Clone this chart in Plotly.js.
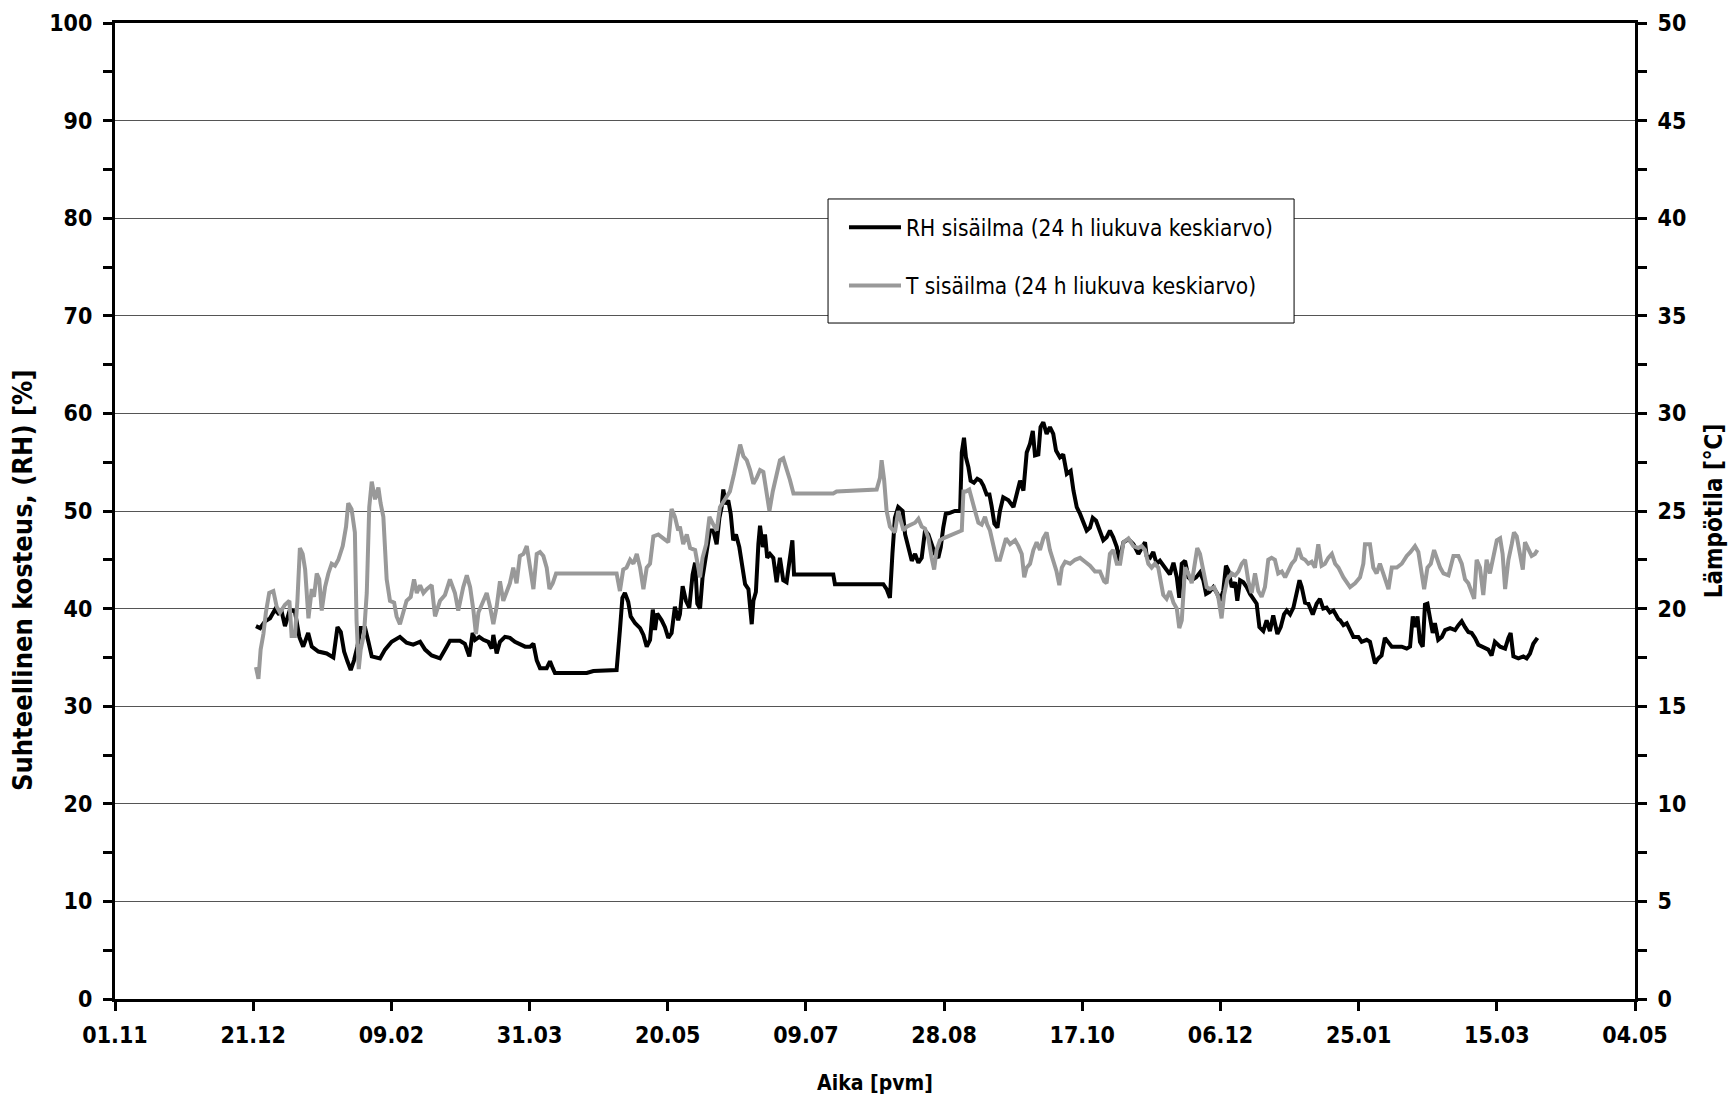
<!DOCTYPE html>
<html>
<head>
<meta charset="utf-8">
<script src="https://cdn.plot.ly/plotly-3.0.1.min.js"></script>
<style>
  html, body { margin: 0; padding: 0; background: #fff; }
  #chart { width: 1731px; height: 1103px; }
</style>
</head>
<body>
<div id="chart"></div>
<script>
// Measurement period starts 01.11.2006; positions below are days from that date.
const START_DATE = '2006-11-01';
const END_DATE = '2008-05-04';

// X-axis tick dates (every 50 days) and their labels
const tickDates = ['2006-11-01', '2006-12-21', '2007-02-09', '2007-03-31', '2007-05-20', '2007-07-09',
                   '2007-08-28', '2007-10-17', '2007-12-06', '2008-01-25', '2008-03-15', '2008-05-04'];
const tickLabels = ['01.11', '21.12', '09.02', '31.03', '20.05', '09.07',
                    '28.08', '17.10', '06.12', '25.01', '15.03', '04.05'];

// Indoor relative humidity, 24 h moving average [%]
const rhDay = [51.0, 52.5, 54.3, 56.1, 57.9, 59.1, 60.3, 61.5, 63.3, 65.1, 66.7, 68.1, 69.9, 71.2, 73.6, 76.6,
  79.0, 80.5, 81.7, 82.9, 84.1, 85.3, 86.5, 87.7, 88.9, 90.5, 91.7, 92.9, 95.9, 97.7, 100.1, 103.1, 105.5,
  107.9, 110.4, 112.2, 114.6, 117.6, 120.0, 121.2, 124.8, 126.6, 128.2, 129.4, 130.3, 131.8, 133.3, 135.1,
  136.3, 136.9, 138.1, 139.3, 141.1, 142.9, 144.7, 146.5, 148.4, 150.2, 151.4, 152.6, 153.8, 156.2, 157.4,
  158.4, 159.2, 170.7, 173.1, 181.5, 182.1, 182.7, 183.6, 184.5, 185.7, 186.6, 188.2, 190.0, 191.2, 192.4,
  193.6, 194.6, 195.4, 196.2, 197.8, 199.0, 200.2, 201.4, 202.6, 203.8, 204.4, 205.4, 206.6, 207.8, 209.0,
  209.9, 210.7, 211.7, 212.6, 214.1, 215.3, 216.5, 217.7, 218.7, 219.5, 220.1, 221.0, 221.9, 222.8, 223.7,
  224.7, 225.9, 226.8, 228.0, 229.2, 230.4, 231.0, 231.9, 232.8, 233.4, 234.4, 235.2, 236.0, 237.0, 238.2,
  239.4, 240.6, 241.8, 243.0, 244.2, 245.1, 245.7, 259.9, 260.5, 278.0, 279.2, 280.4, 281.3, 282.2, 283.4,
  285.0, 285.9, 287.1, 288.3, 289.5, 290.7, 291.9, 293.1, 294.3, 295.5, 296.7, 297.9, 298.8, 299.7, 300.6,
  302.1, 303.9, 305.8, 306.4, 307.2, 307.9, 308.8, 309.6, 310.8, 312.0, 313.2, 314.2, 315.4, 316.4, 317.2,
  318.2, 319.3, 320.2, 321.4, 323.3, 325.1, 326.3, 327.5, 328.7, 329.9, 331.1, 332.1, 332.9, 334.1, 334.9,
  335.9, 337.1, 338.3, 339.5, 340.5, 341.9, 343.1, 344.4, 345.8, 346.8, 348.0, 349.2, 350.4, 351.6, 352.8,
  353.8, 355.0, 356.2, 357.6, 358.8, 360.0, 361.2, 362.5, 363.4, 364.9, 366.7, 368.5, 370.3, 371.5, 372.7,
  373.3, 374.5, 375.7, 376.9, 378.1, 379.3, 380.5, 381.7, 383.0, 384.2, 385.1, 386.0, 387.2, 388.4, 389.6,
  391.2, 392.6, 393.8, 394.8, 396.0, 397.4, 398.9, 399.8, 401.0, 402.0, 402.9, 404.1, 405.3, 406.1, 407.1,
  408.3, 409.5, 410.7, 411.9, 413.1, 414.1, 415.5, 416.7, 417.9, 419.1, 420.6, 421.8, 423.0, 424.0, 425.2,
  426.4, 427.6, 428.6, 429.4, 430.6, 431.8, 433.4, 434.8, 436.0, 437.2, 438.4, 439.6, 440.9, 442.7, 443.3,
  444.5, 445.7, 446.9, 448.1, 449.9, 451.1, 452.9, 454.1, 455.1, 455.9, 457.1, 458.3, 459.5, 460.8, 462.0,
  463.8, 465.6, 467.4, 468.6, 469.6, 470.4, 471.3, 472.2, 473.2, 474.0, 474.9, 475.8, 476.8, 477.6, 478.8,
  480.1, 481.3, 483.1, 484.9, 486.1, 487.3, 488.5, 489.7, 490.9, 492.1, 493.3, 495.1, 496.9, 498.1, 499.3,
  501.2, 503.0, 504.2, 505.0, 506.0, 507.8, 509.6, 510.8, 512.0, 513.2, 514.7];
const rhVal = [38.2, 38.0, 38.7, 39.0, 39.9, 39.5, 39.7, 38.2, 39.9, 39.7, 37.1, 36.1, 37.5, 36.1, 35.6, 35.4,
  35.0, 38.1, 37.6, 35.6, 34.6, 33.7, 34.7, 36.1, 38.0, 38.0, 36.6, 35.1, 34.9, 35.8, 36.6, 37.1, 36.5,
  36.3, 36.6, 35.8, 35.2, 34.9, 36.1, 36.7, 36.7, 36.4, 35.1, 37.5, 36.8, 37.1, 36.8, 36.6,
  35.9, 37.3, 35.4, 36.6, 37.1, 37.0, 36.6, 36.4, 36.1, 36.1, 36.4, 34.7, 33.9, 33.9, 34.6,
  33.9, 33.4, 33.4, 33.6, 33.7, 35.4, 37.8, 41.1, 41.6, 40.7, 39.2, 38.5, 38.0, 37.3, 36.1,
  36.8, 39.9, 37.8, 39.5, 38.8, 38.1, 37.0, 37.5, 40.2, 38.8, 39.4, 42.3, 40.8, 40.1, 43.5,
  44.7, 40.5, 40.0, 43.2, 45.9, 48.0, 48.0, 46.6, 49.3, 50.4, 52.2, 50.7, 51.1, 49.7, 47.0,
  47.6, 46.3, 44.6, 42.5, 42.0, 38.4, 40.8, 41.7, 46.6, 48.5, 46.3, 47.6, 45.2, 45.6, 45.2,
  42.7, 45.2, 42.9, 42.7, 45.2, 47.0, 43.5, 43.5, 42.5, 42.5, 42.0, 41.1, 45.6, 49.3, 50.4,
  50.0, 47.6, 46.3, 44.9, 45.6, 44.7, 45.2, 48.0, 47.6, 46.6, 45.6, 45.2, 46.3, 48.3, 49.7,
  49.8, 50.0, 50.0, 56.0, 57.5, 55.5, 54.5, 53.1, 52.9, 53.3, 53.1, 52.6, 51.7, 51.7, 50.5,
  48.7, 48.3, 50.0, 51.4, 51.1, 50.4, 51.7, 53.1, 52.1, 56.0, 56.9, 58.2, 55.7, 55.8, 58.6,
  59.1, 57.9, 58.6, 57.9, 56.2, 55.5, 55.8, 53.8, 54.1, 52.1, 50.4, 49.7, 48.7, 48.0, 48.3,
  49.3, 49.0, 48.0, 47.0, 47.3, 48.0, 47.3, 46.3, 44.9, 46.8, 47.1, 46.6, 45.6, 46.3, 46.8,
  45.4, 45.2, 45.8, 44.6, 44.9, 44.4, 43.9, 43.5, 44.7, 43.2, 41.1, 44.6, 44.9, 43.2, 42.9,
  43.2, 43.7, 42.9, 41.5, 41.7, 42.2, 41.5, 40.8, 41.8, 44.4, 43.9, 42.2, 42.7, 40.8, 42.9,
  42.7, 42.2, 41.5, 41.0, 40.5, 38.1, 37.7, 38.8, 37.7, 39.3, 37.4, 38.1, 39.4, 39.8, 39.4,
  40.1, 41.7, 42.9, 42.2, 40.6, 40.5, 39.4, 40.5, 41.0, 40.0, 40.1, 39.6, 39.8, 38.9, 38.8,
  38.3, 38.5, 37.8, 37.1, 37.1, 36.6, 36.8, 36.6, 35.4, 34.4, 34.9, 35.2, 37.0, 36.6, 36.1,
  36.1, 36.1, 35.9, 36.1, 39.2, 38.1, 39.2, 36.6, 36.1, 40.4, 40.5, 39.2, 37.5, 38.5, 36.8,
  37.1, 37.8, 38.0, 37.8, 38.3, 38.7, 38.1, 37.6, 37.5, 37.0, 36.3, 36.1, 35.8, 35.2, 36.6,
  36.1, 35.9, 37.0, 37.5, 35.1, 34.9, 35.1, 34.9, 35.4, 36.4, 37.0];

// Indoor temperature, 24 h moving average [°C]
const tDay = [51.0, 51.9, 52.7, 53.7, 54.6, 55.8, 57.3, 58.5, 59.7, 61.5, 63.1, 63.9, 65.1, 66.0, 66.9, 67.9,
  68.8, 70.0, 71.2, 72.0, 73.0, 73.9, 74.8, 76.0, 77.2, 78.4, 79.6, 80.8, 82.4, 83.6, 84.4, 85.6, 86.8,
  87.4, 88.2, 88.9, 90.1, 91.1, 92.0, 92.9, 94.1, 95.3, 96.1, 97.1, 98.3, 99.5, 101.0, 101.9, 103.1, 104.3,
  105.5, 107.0, 108.2, 109.2, 110.4, 111.6, 112.8, 114.6, 115.8, 117.6, 119.4, 121.2, 123.0, 124.2,
  126.0, 127.3, 128.5, 129.7, 130.6, 131.5, 132.7, 134.5, 135.7, 136.9, 138.1, 139.3, 140.5, 141.7, 142.9,
  144.1, 145.3, 146.5, 147.8, 149.0, 150.2, 151.4, 152.6, 153.8, 155.0, 156.2, 157.2, 158.4, 159.6, 181.5,
  182.7, 183.9, 185.1, 186.4, 187.6, 188.8, 190.0, 191.2, 192.4, 193.6, 194.8, 196.6, 198.4, 200.2, 201.4,
  202.6, 203.8, 204.4, 205.6, 206.9, 208.1, 209.9, 211.7, 212.6, 213.9, 215.1, 216.5, 217.7, 218.9, 220.1,
  221.3, 222.5, 224.0, 224.9, 226.2, 227.4, 228.6, 229.8, 231.0, 232.2, 233.4, 234.6, 235.8, 236.8, 238.0,
  239.4, 240.6, 241.8, 243.0, 244.2, 245.5, 259.9, 261.1, 275.6, 276.8, 277.4, 278.3, 279.2, 280.4, 282.2,
  283.4, 284.1, 285.3, 286.5, 287.7, 289.5, 290.7, 291.9, 293.1, 294.3, 295.5, 296.4, 297.3, 298.5, 299.7,
  301.5, 303.3, 305.2, 306.4, 307.0, 307.9, 309.1, 310.0, 311.2, 312.4, 313.6, 314.8, 315.6, 316.6, 317.8,
  319.0, 320.2, 321.4, 322.4, 323.9, 325.7, 326.9, 328.1, 329.0, 329.9, 331.1, 332.3, 333.5, 334.7, 335.9,
  337.1, 338.3, 339.5, 340.7, 341.7, 342.6, 343.8, 345.6, 347.4, 349.2, 351.0, 352.8, 354.6, 356.4, 357.9,
  358.8, 360.0, 361.2, 362.5, 363.7, 364.9, 366.7, 368.5, 370.3, 371.5, 372.7, 373.9, 375.1, 376.3, 377.5,
  378.4, 379.3, 380.5, 381.7, 383.0, 384.2, 385.1, 386.0, 387.2, 388.4, 389.6, 390.8, 391.6, 392.6, 393.8,
  395.0, 396.2, 397.7, 399.2, 400.4, 401.3, 402.5, 404.1, 405.3, 406.5, 407.7, 408.9, 410.1, 411.3, 412.5,
  413.7, 414.9, 416.1, 417.3, 418.5, 419.7, 420.9, 422.2, 423.4, 424.6, 425.8, 427.0, 428.2, 429.4, 430.6,
  431.8, 433.0, 434.2, 435.4, 436.6, 437.8, 439.0, 440.3, 441.5, 442.7, 444.5, 445.7, 446.9, 448.7, 450.5,
  451.7, 452.3, 454.1, 455.3, 456.5, 457.7, 458.9, 460.8, 462.0, 463.8, 465.6, 467.4, 468.8, 470.4, 471.6,
  472.8, 473.7, 474.9, 476.1, 477.3, 478.5, 479.5, 480.7, 482.5, 484.3, 486.1, 487.3, 488.5, 489.7, 490.9,
  491.8, 492.7, 493.9, 495.1, 496.3, 497.5, 498.8, 500.0, 501.2, 502.1, 503.0, 504.2, 505.4, 506.2, 507.2,
  508.4, 509.4, 510.2, 511.4, 512.6, 513.8, 514.7];
const tVal = [17.0, 16.4, 17.9, 18.7, 19.8, 20.8, 20.9, 20.1, 19.8, 20.2, 20.4, 18.6, 18.6, 20.4, 23.1, 22.8,
  22.0, 19.5, 21.0, 20.6, 21.8, 21.5, 19.9, 21.1, 21.8, 22.3, 22.2, 22.5, 23.2, 24.2, 25.4, 25.1, 23.9,
  19.4, 16.9, 17.9, 18.7, 20.8, 25.2, 26.5, 25.6, 26.2, 25.4, 24.7, 21.5, 20.4, 20.3, 19.6, 19.2, 19.8,
  20.4, 20.6, 21.5, 20.8, 21.2, 20.8, 21.0, 21.2, 19.6, 20.4, 20.7, 21.5, 20.8, 19.9,
  21.1, 21.7, 21.1, 19.9, 18.7, 19.8, 20.2, 20.8, 20.1, 19.2, 20.1, 21.4, 20.4, 20.8, 21.3,
  22.1, 21.3, 22.7, 22.8, 23.2, 22.1, 21.0, 22.8, 22.9, 22.7, 22.1, 21.0, 21.3, 21.8, 21.8,
  20.9, 22.0, 22.1, 22.5, 22.3, 22.8, 22.1, 21.0, 22.1, 22.3, 23.7, 23.8, 23.6, 23.4, 25.1,
  24.7, 24.0, 24.2, 23.3, 23.8, 23.1, 23.0, 21.6, 22.6, 23.3, 24.7, 24.3, 24.0, 25.2, 25.5,
  25.7, 26.0, 26.9, 27.6, 28.4, 27.8, 27.6, 27.1, 26.4, 26.7, 27.1, 27.0, 25.9, 25.0, 26.0,
  26.9, 27.6, 27.7, 27.2, 26.6, 25.9, 25.9, 26.0, 26.1, 26.7, 27.6, 26.6, 25.0, 24.2, 23.9,
  25.0, 24.6, 24.0, 24.2, 24.3, 24.4, 24.6, 24.2, 24.1, 23.6, 22.6, 22.0, 23.0, 23.5, 23.6,
  23.7, 23.8, 23.9, 24.0, 26.0, 26.0, 26.1, 25.7, 25.0, 24.4, 24.3, 24.7, 24.3, 24.0, 23.3,
  22.5, 22.5, 23.1, 23.6, 23.3, 23.5, 23.2, 22.8, 21.6, 22.1, 22.3, 23.0, 23.4, 23.0, 23.6,
  23.9, 23.0, 22.5, 21.9, 21.2, 22.1, 22.4, 22.3, 22.5, 22.6, 22.4, 22.2, 21.9, 21.9, 21.4,
  21.3, 22.8, 23.0, 22.3, 22.3, 23.4, 23.6, 23.2, 23.1, 23.2, 23.0, 22.3, 22.1, 22.3, 22.1,
  21.4, 20.7, 20.5, 20.9, 20.3, 20.0, 19.0, 19.4, 22.1, 21.8, 21.3, 22.6, 23.1, 22.8, 21.8,
  21.1, 21.0, 21.1, 20.6, 19.5, 20.7, 21.5, 21.8, 21.7, 21.9, 22.3, 22.5, 21.4, 20.8, 21.8,
  20.9, 20.6, 21.1, 22.5, 22.6, 22.5, 21.8, 21.9, 21.6, 22.0, 22.3, 22.5, 23.1, 22.6, 22.5,
  22.3, 22.4, 22.1, 23.3, 22.2, 22.3, 22.6, 22.8, 22.3, 22.1, 21.6, 21.3, 21.1, 21.3, 21.6,
  22.3, 23.3, 23.3, 22.1, 21.8, 22.3, 21.8, 21.0, 22.1, 22.1, 22.3, 22.7, 22.9, 23.2, 22.9,
  21.6, 21.0, 22.1, 22.3, 23.0, 22.5, 22.1, 21.8, 21.7, 22.7, 22.7, 22.3, 21.5, 21.3, 20.8,
  20.5, 22.5, 22.1, 20.7, 22.5, 21.8, 22.7, 23.5, 23.6, 22.8, 21.0, 22.5, 23.3, 23.9, 23.7,
  22.8, 22.0, 23.4, 23.0, 22.7, 22.8, 23.0];

const DAY_MS = 86400000;
const startMs = Date.parse(START_DATE + 'T00:00:00Z');
function dayToDate(d) {
  return new Date(startMs + d * DAY_MS).toISOString().slice(0, 16).replace('T', ' ');
}

const FONT = '"DejaVu Sans Condensed", "Liberation Sans Narrow", "Arial Narrow", sans-serif';
const tickFont = { family: FONT, size: 23, color: '#000', weight: 'bold' };
const titleFont = { family: FONT, size: 21, color: '#000', weight: 'bold' };

const traces = [
  {
    x: rhDay.map(dayToDate), y: rhVal, type: 'scatter', mode: 'lines',
    name: 'RH sisäilma (24 h liukuva keskiarvo)', legendgroup: 'rh',
    line: { color: '#000000', width: 4 }, xaxis: 'x', yaxis: 'y', hoverinfo: 'x+y'
  },
  {
    x: tDay.map(dayToDate), y: tVal, type: 'scatter', mode: 'lines',
    name: 'T sisäilma (24 h liukuva keskiarvo)', legendgroup: 't',
    line: { color: '#999999', width: 4 }, xaxis: 'x', yaxis: 'y2', hoverinfo: 'x+y'
  }
];

const xRange = [START_DATE, END_DATE];

// Legend frame (paper coordinates)
const legendBox = { x0: 0.4691, x1: 0.7757, y0: 0.6926, y1: 0.8197 };

const layout = {
  width: 1731, height: 1103,
  margin: { l: 115, r: 96, t: 23, b: 104, pad: 0 },
  paper_bgcolor: '#ffffff', plot_bgcolor: '#ffffff',
  showlegend: true,
  legend: {
    x: 0.4796, y: 0.8125, xanchor: 'left', yanchor: 'top',
    bgcolor: 'rgba(0,0,0,0)', borderwidth: 0,
    font: { family: FONT, size: 22.5, color: '#000' },
    traceorder: 'grouped', tracegroupgap: 26, itemwidth: 52
  },
  shapes: [{
    type: 'rect', xref: 'paper', yref: 'paper', layer: 'above',
    x0: legendBox.x0, x1: legendBox.x1, y0: legendBox.y0, y1: legendBox.y1,
    line: { color: '#000000', width: 1 }, fillcolor: '#ffffff'
  }],
  annotations: [{
    text: 'Suhteellinen kosteus, (RH) [%]', textangle: -90,
    xref: 'paper', yref: 'paper', x: -0.0612, y: 0.4293,
    xanchor: 'center', yanchor: 'middle', showarrow: false,
    font: { family: FONT, size: 27, color: '#000', weight: 'bold' }
  }],
  xaxis: {
    type: 'date', range: xRange, tickmode: 'array', tickvals: tickDates, ticktext: tickLabels,
    ticks: 'outside', ticklen: 9, tickwidth: 3, tickcolor: '#000', ticklabelstandoff: 4,
    showline: true, linewidth: 3, linecolor: '#000', mirror: true,
    showgrid: false, zeroline: false, tickfont: tickFont,
    title: { text: 'Aika [pvm]', font: titleFont, standoff: 29 }
  },
  xaxis2: {
    type: 'date', range: xRange, overlaying: 'x', anchor: 'y', side: 'bottom',
    tickmode: 'array', tickvals: tickDates, ticks: 'inside', ticklen: 9, tickwidth: 3, tickcolor: '#000',
    showticklabels: false, showline: false, showgrid: false, zeroline: false
  },
  yaxis: {
    range: [0, 100], dtick: 10, tick0: 0,
    ticks: 'outside', ticklen: 9, tickwidth: 3, tickcolor: '#000', ticklabelstandoff: 6,
    minor: { dtick: 5, tick0: 0, ticks: 'outside', ticklen: 9, tickwidth: 3, tickcolor: '#000', showgrid: false },
    showline: true, linewidth: 3, linecolor: '#000',
    showgrid: true, gridcolor: '#555555', gridwidth: 1, zeroline: false,
    tickfont: tickFont
  },
  yaxis3: {
    range: [0, 100], dtick: 10, tick0: 0, overlaying: 'y', anchor: 'x', side: 'left',
    ticks: 'inside', ticklen: 9, tickwidth: 3, tickcolor: '#000',
    minor: { dtick: 5, tick0: 0, ticks: 'inside', ticklen: 9, tickwidth: 3, tickcolor: '#000', showgrid: false },
    showticklabels: false, showline: false, showgrid: false, zeroline: false
  },
  yaxis2: {
    range: [0, 50], dtick: 5, tick0: 0, overlaying: 'y', side: 'right', anchor: 'x',
    ticks: 'outside', ticklen: 9, tickwidth: 3, tickcolor: '#000', ticklabelstandoff: 6,
    minor: { dtick: 2.5, tick0: 0, ticks: 'outside', ticklen: 9, tickwidth: 3, tickcolor: '#000', showgrid: false },
    showline: true, linewidth: 3, linecolor: '#000',
    showgrid: false, zeroline: false, tickfont: tickFont,
    title: { text: 'Lämpötila [°C]', font: { family: FONT, size: 24, color: '#000', weight: 'bold' }, standoff: 20 }
  },
  yaxis4: {
    range: [0, 50], dtick: 5, tick0: 0, overlaying: 'y', side: 'right', anchor: 'x',
    ticks: 'inside', ticklen: 9, tickwidth: 3, tickcolor: '#000',
    minor: { dtick: 2.5, tick0: 0, ticks: 'inside', ticklen: 9, tickwidth: 3, tickcolor: '#000', showgrid: false },
    showticklabels: false, showline: false, showgrid: false, zeroline: false
  }
};

Plotly.newPlot('chart', traces, layout, { staticPlot: true, displayModeBar: false });
</script>
</body>
</html>
